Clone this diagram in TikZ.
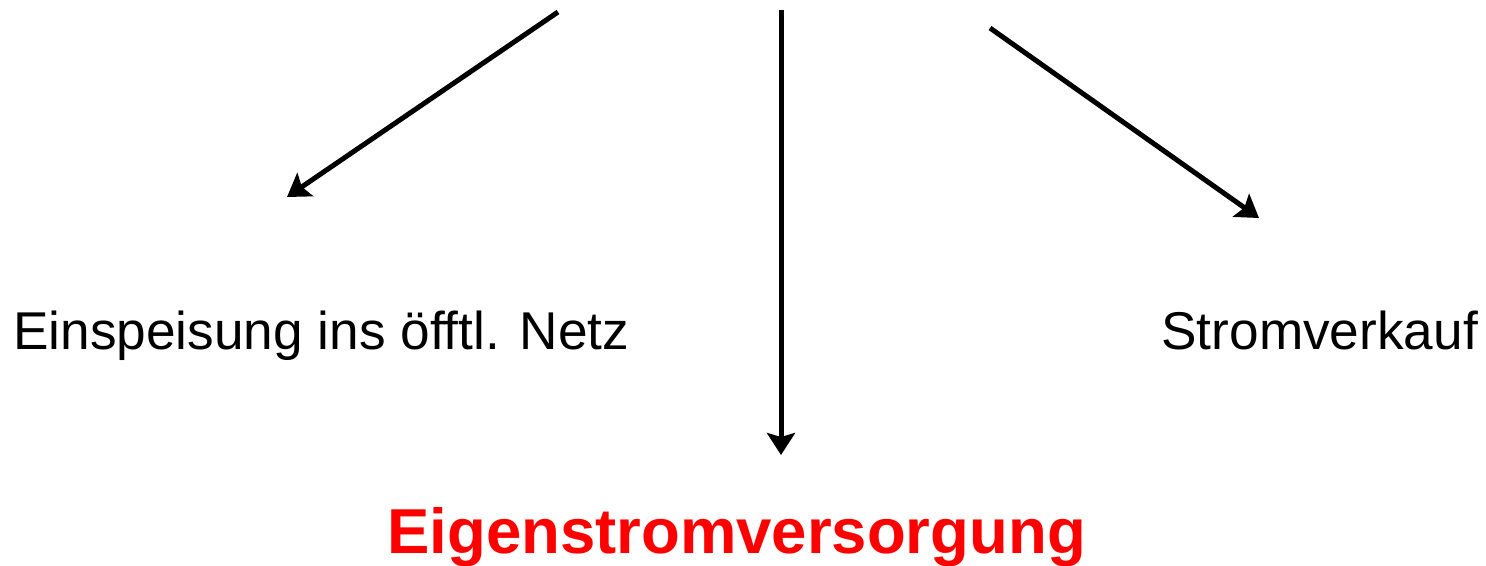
\documentclass[tikz,border=0pt]{standalone}
\usepackage{fontspec}
\setmainfont{Liberation Sans}
\usetikzlibrary{arrows.meta}
\begin{document}
\begin{tikzpicture}[x=1pt,y=-1pt,
  conn/.style={line width=5pt,-{Stealth[length=22pt,width=28pt,inset=4pt]}},
  lbl/.style={inner sep=0pt,font=\fontsize{53.2}{60}\selectfont},
  main/.style={inner sep=0pt,text=red,font=\fontsize{63.5}{70}\selectfont\bfseries}]
\useasboundingbox (0,0) rectangle (1486,565);
\coordinate (s1) at (558,12);
\coordinate (e1) at (287,197);
\coordinate (s2) at (781,10);
\coordinate (e2) at (781,455);
\coordinate (s3) at (990,28);
\coordinate (e3) at (1259,218);
\draw[conn] (s1) -- (e1);
\draw[conn] (s2) -- (e2);
\draw[conn] (s3) -- (e3);
\node[lbl,anchor=base west] (netz) at (13,349) {Einspeisung ins öfftl. Netz};
\node[lbl,anchor=base east] (verkauf) at (1478,349) {Stromverkauf};
\node[main,anchor=base west] (eigen) at (387,553) {Eigenstromversorgung};
\end{tikzpicture}
\end{document}
